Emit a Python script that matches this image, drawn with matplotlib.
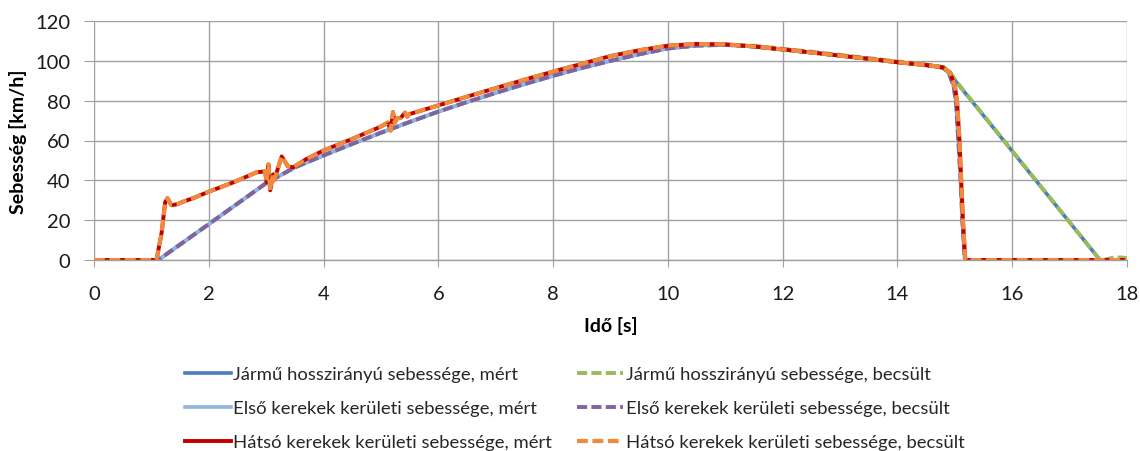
import numpy as np
import matplotlib
matplotlib.use('Agg')
import matplotlib.pyplot as plt

plt.rcParams['font.family'] = ['Lato', 'DejaVu Sans']

# front wheels / vehicle, common part (0 .. 14.8 s)
t_common = [0, 1.12, 2.0, 3.0, 3.5, 4.0, 4.5, 5.0, 5.5, 6.0, 6.5, 7.0, 7.5, 8.0,
            8.5, 9.0, 9.5, 10.0, 10.5, 11.0, 11.5, 12.0, 12.5, 13.0, 13.5, 14.0,
            14.5, 14.8]
v_common = [0, 0, 18.0, 38.6, 46.5, 52.5, 58.3, 63.9, 69.3, 74.5, 79.3, 83.9, 88.3, 92.5,
            96.4, 100.0, 103.3, 106.2, 107.7, 108.0, 107.2, 105.7, 104.2, 102.6, 101.0, 99.3,
            97.8, 96.5]

# vehicle speed after braking starts
t_veh_tail = [14.9, 14.95, 15.0, 15.5, 17.53, 18.0]
v_veh_meas_tail = [94.5, 92.5, 90.3, 72.5, 0, 0]
t_veh_est_tail = [14.9, 14.95, 15.0, 15.5, 17.53, 17.62, 17.75, 17.9, 18.0]
v_veh_est_tail = [95.0, 93.0, 90.6, 72.7, 0, 0.2, 1.1, 1.3, 0.9]

# front wheels after braking starts
t_front_tail = [14.9, 14.98, 15.02, 15.06, 15.1, 15.13, 15.17, 15.19, 18.0]
v_front_tail = [93.5, 87.0, 79.0, 60.0, 40.0, 20.0, 1.0, 0, 0]

# rear wheels
t_rear = [0, 1.09, 1.18, 1.24, 1.28, 1.35, 1.45, 1.53, 1.75, 2.0, 2.43, 2.83, 2.98,
          3.01, 3.04, 3.07, 3.12, 3.14, 3.27, 3.38, 3.47, 3.7, 4.0, 4.5, 5.0, 5.12,
          5.17, 5.21, 5.24, 5.28, 5.35, 5.42, 5.46, 5.5, 6.0, 6.5, 7.0, 7.5, 8.0,
          8.5, 9.0, 9.5, 10.0, 10.5, 11.0, 11.5, 12.0, 12.5, 13.0, 13.5, 14.0, 14.5,
          14.78, 14.91, 15.0, 15.04, 15.08, 15.11, 15.14, 15.18, 15.2, 18.0]
v_rear = [0, 0, 14.0, 29.0, 31.0, 27.5, 28.0, 29.0, 31.3, 34.3, 39.0, 44.0, 44.5,
          39.0, 48.0, 35.0, 43.0, 40.0, 52.0, 47.0, 46.5, 50.7, 55.0, 60.8, 67.0, 69.0,
          65.0, 74.2, 69.0, 71.0, 71.5, 74.0, 72.0, 73.3, 77.6, 82.0, 86.3, 90.5, 94.6,
          98.5, 102.4, 105.3, 107.6, 108.5, 108.3, 107.2, 105.7, 104.2, 102.6, 101.0, 99.3, 97.9,
          96.8, 94.3, 87.6, 79.2, 60.8, 40.7, 20.6, 1.3, 0, 0]

labels = ['Jármű hosszirányú sebessége, mért',
          'Jármű hosszirányú sebessége, becsült',
          'Első kerekek kerületi sebessége, mért',
          'Első kerekek kerületi sebessége, becsült',
          'Hátsó kerekek kerületi sebessége, mért',
          'Hátsó kerekek kerületi sebessége, becsült']
colors = ['#4a7ebb', '#9bbb59', '#8eb4e3', '#8064a2', '#c00000', '#f08a3c']

t_veh_meas = t_common + t_veh_tail
v_veh_meas = v_common + v_veh_meas_tail
t_veh_est = t_common + t_veh_est_tail
v_veh_est = [v + 0.4 if 11 < t <= 14.8 else v for t, v in zip(t_common, v_common)] + v_veh_est_tail
t_front = t_common + t_front_tail
v_front = v_common + v_front_tail

series = [(t_veh_meas, v_veh_meas), (t_veh_est, v_veh_est),
          (t_front, v_front), (t_front, v_front),
          (t_rear, v_rear), (t_rear, v_rear)]
widths = [2.6, 2.8, 2.6, 2.8, 2.8, 3.0]
dashed = [False, True, False, True, False, True]

fig = plt.figure(figsize=(11.4, 4.52), dpi=100)
ax = fig.add_axes([94 / 1140, 1 - 261 / 452, (1127 - 94) / 1140, (261 - 22) / 452])

handles = []
for (t, v), lab, c, w, d in zip(series, labels, colors, widths, dashed):
    if d:
        ln, = ax.plot(t, v, color=c, lw=w, dashes=(2.6, 1.1), label=lab)
    else:
        ln, = ax.plot(t, v, color=c, lw=w, label=lab)
    handles.append(ln)

ax.set_xlim(0, 18)
ax.set_ylim(0, 120)
ax.set_xticks(np.arange(0, 19, 2))
ax.set_yticks(np.arange(0, 121, 20))
ax.grid(True, color='#a0a0a0', lw=1.0)
ax.set_axisbelow(True)
for s in ['top', 'right', 'left']:
    ax.spines[s].set_visible(False)
ax.spines['bottom'].set_color('#a0a0a0')
ax.spines['bottom'].set_linewidth(1.0)
ax.tick_params(axis='x', length=5, color='#a0a0a0', labelsize=14.5, pad=13, labelcolor='#1a1a1a')
ax.tick_params(axis='y', length=7, color='#a0a0a0', labelsize=14.5, pad=10, labelcolor='#1a1a1a')

ax.set_xlabel('Idő [s]', fontsize=14, fontweight='bold', labelpad=10)
ax.set_ylabel('Sebesség [km/h]', fontsize=14, fontweight='bold', labelpad=6)

# legend: left column measured, right column estimated
order = [0, 2, 4, 1, 3, 5]
leg = fig.legend([handles[i] for i in order], [labels[i] for i in order],
                 ncol=2, loc='upper left', bbox_to_anchor=(185 / 1140, 1 - 367 / 452),
                 frameon=False, borderpad=0, borderaxespad=0, handlelength=2.5,
                 handletextpad=0.12, columnspacing=1.35, labelspacing=0.98,
                 prop={'size': 13.3})
for txt in leg.get_texts():
    txt.set_color('#262626')

fig.savefig('out.png', dpi=100)
